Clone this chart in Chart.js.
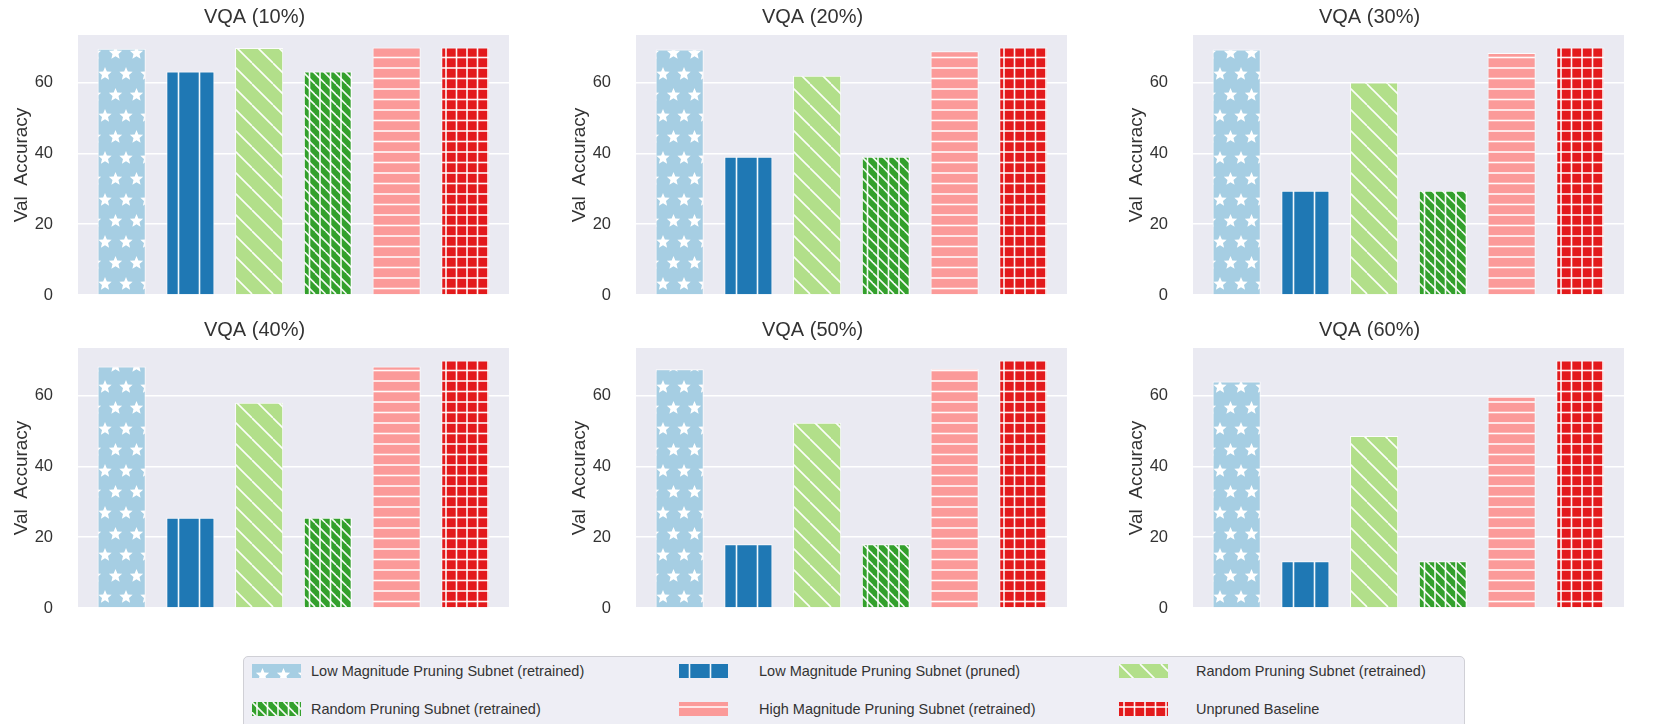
<!DOCTYPE html>
<html>
<head>
<meta charset="utf-8">
<script src="https://cdn.jsdelivr.net/npm/chart.js@4.4.1/dist/chart.umd.min.js"></script>
<style>
  body { margin: 0; background: #fff; width: 1669px; height: 724px; overflow: hidden; position: relative; font-family: "Liberation Sans", Arial, sans-serif; }
  .panel { position: absolute; }
  #legend { position: absolute; left: 243px; top: 656px; width: 1222px; height: 80px; background: #eeeef5; border: 1px solid #d0d0d6; border-radius: 5px; box-sizing: border-box; }
  .item { position: absolute; font-size: 14.5px; color: #333; white-space: nowrap; line-height: 16px; }
  .item canvas { position: absolute; top: 1px; }
</style>
</head>
<body>
<div id="legend"></div>
<script>
// panel titles
const titles = ['VQA (10%)', 'VQA (20%)', 'VQA (30%)', 'VQA (40%)', 'VQA (50%)', 'VQA (60%)'];

// val accuracy per panel (10% .. 60%)
const lowMagRetrained = [69.6, 69.4, 69.4, 68.3, 67.5, 64.0];
const lowMagPruned    = [63.2, 39.1, 29.5, 25.5, 18.0, 13.2];
const randRetrained   = [69.8, 62.0, 60.1, 58.0, 52.4, 48.6];
const randPruned      = [63.2, 39.1, 29.5, 25.5, 18.0, 13.2];
const highMagRetrained = [70.0, 68.9, 68.4, 68.3, 67.6, 59.7];
const unpruned        = [70.0, 70.0, 70.0, 70.0, 70.0, 70.0];

const seriesNames = [
    'Low Magnitude Pruning Subnet (retrained)',
    'Low Magnitude Pruning Subnet (pruned)',
    'Random Pruning Subnet (retrained)',
    'Random Pruning Subnet (retrained)',
    'High Magnitude Pruning Subnet (retrained)',
    'Unpruned Baseline'
];
const seriesValues = [lowMagRetrained, lowMagPruned, randRetrained, randPruned, highMagRetrained, unpruned];
const seriesColors = ['#a6cee3', '#1f78b4', '#b2df8a', '#33a02c', '#fb9a99', '#e31a1c'];
const seriesHatch = ['stars', 'vline', 'diag', 'vdiag', 'hline', 'grid'];

const FONT = '"Liberation Sans", Arial, sans-serif';
const TEXT = '#333';

// hatch patterns, like matplotlib hatches
function drawStar(c, cx, cy, r) {
    c.beginPath();
    for (let i = 0; i < 10; i++) {
        const rr = i % 2 === 0 ? r : r * 0.45;
        const a = -Math.PI / 2 + i * Math.PI / 5;
        const x = cx + rr * Math.cos(a), y = cy + rr * Math.sin(a);
        if (i === 0) c.moveTo(x, y); else c.lineTo(x, y);
    }
    c.closePath();
    c.fill();
}

function makePattern(kind, color) {
    const t = document.createElement('canvas');
    const w = 21, h = kind === 'stars' ? 42 : 21;
    t.width = w; t.height = h;
    const c = t.getContext('2d');
    c.fillStyle = color;
    c.fillRect(0, 0, w, h);
    c.strokeStyle = 'rgba(255,255,255,0.95)';
    c.fillStyle = '#fff';
    c.lineWidth = 1.6;
    const line = (x1, y1, x2, y2) => { c.beginPath(); c.moveTo(x1, y1); c.lineTo(x2, y2); c.stroke(); };
    if (kind === 'stars') {
        drawStar(c, 10.5, 11, 7);
        drawStar(c, 0, 32, 7);
        drawStar(c, 21, 32, 7);
        drawStar(c, 10.5, 53, 7);
        drawStar(c, 0, -10, 7);
        drawStar(c, 21, -10, 7);
    } else if (kind === 'vline') {
        line(10.5, 0, 10.5, h);
    } else if (kind === 'diag') {
        for (let k = -21; k <= 21; k += 21) line(k, 0, k + 21, 21);
    } else if (kind === 'vdiag') {
        line(5, 0, 5, h); line(15.5, 0, 15.5, h);
        for (let k = -21; k <= 21; k += 10.5) line(k, 0, k + 21, 21);
    } else if (kind === 'hline') {
        line(0, 5, w, 5); line(0, 15.5, w, 15.5);
    } else if (kind === 'grid') {
        line(0, 5, w, 5); line(0, 15.5, w, 15.5);
        line(5, 0, 5, h); line(15.5, 0, 15.5, h);
    }
    return c.createPattern(t, 'repeat');
}

const patterns = seriesColors.map((col, i) => makePattern(seriesHatch[i], col));

const bgPlugin = {
    id: 'bg',
    beforeDraw(chart) {
        const a = chart.chartArea, c = chart.ctx;
        c.save();
        c.fillStyle = '#eaeaf2';
        c.fillRect(a.left, a.top, a.right - a.left, a.bottom - a.top);
        c.restore();
    }
};

// layout of the 2x3 grid (plot areas)
const plotLefts = [78, 636, 1193];
const plotTops = [35, 348];
const plotW = 431, plotH = 260;
const axisW = 78, titleH = 35, padBottom = 13;
const padRight = axisW; // symmetric canvas so the title centres over the plot

titles.forEach((title, p) => {
    const col = p % 3, row = Math.floor(p / 3);
    const div = document.createElement('div');
    div.className = 'panel';
    div.style.left = (plotLefts[col] - axisW) + 'px';
    div.style.top = (plotTops[row] - titleH) + 'px';
    const cv = document.createElement('canvas');
    cv.width = axisW + plotW + padRight;
    cv.height = titleH + plotH + padBottom;
    div.appendChild(cv);
    document.body.appendChild(div);

    new Chart(cv.getContext('2d'), {
        type: 'bar',
        data: {
            datasets: seriesNames.map((name, k) => ({
                label: name,
                data: [{ x: k, y: seriesValues[k][p] }],
                backgroundColor: patterns[k],
                borderColor: 'rgba(255,255,255,0.85)',
                borderWidth: 1,
                grouped: false,
                barPercentage: 0.7,
                categoryPercentage: 1
            }))
        },
        options: {
            responsive: false,
            animation: false,
            layout: { padding: { left: 0, right: padRight, top: 0, bottom: padBottom } },
            plugins: {
                legend: { display: false },
                tooltip: { enabled: false },
                title: {
                    display: true,
                    text: title,
                    color: TEXT,
                    font: { family: FONT, size: 20, weight: 'normal' },
                    padding: { top: 5, bottom: 6 }
                }
            },
            scales: {
                x: { type: 'linear', min: -0.635, max: 5.635, offset: false, display: false },
                y: {
                    min: 0,
                    max: 73.5,
                    afterBuildTicks: s => { s.ticks = s.ticks.filter(t => t.value % 20 === 0); },
                    afterFit: s => { s.width = axisW; },
                    ticks: { stepSize: 20, padding: 3, color: TEXT, font: { family: FONT, size: 16.5 } },
                    grid: { color: '#ffffff', lineWidth: 1.6, drawTicks: true, tickLength: 22, tickColor: 'rgba(0,0,0,0)' },
                    border: { display: false },
                    title: {
                        display: true,
                        text: 'Val  Accuracy',
                        color: TEXT,
                        font: { family: FONT, size: 19 },
                        padding: { top: 10, bottom: 0 }
                    }
                }
            }
        },
        plugins: [bgPlugin]
    });
});

// shared legend below the panels
const legend = document.getElementById('legend');
const swatchLefts = [8, 435, 875];
const textLefts = [67, 515, 952];
const rowTops = [6, 44];
seriesNames.forEach((name, k) => {
    const col = k % 3, row = Math.floor(k / 3);
    const item = document.createElement('div');
    item.className = 'item';
    item.style.left = swatchLefts[col] + 'px';
    item.style.top = rowTops[row] + 'px';
    const sw = document.createElement('canvas');
    sw.width = 49; sw.height = 14;
    const sc = sw.getContext('2d');
    sc.fillStyle = patterns[k];
    sc.fillRect(0, 0, 49, 14);
    sw.style.left = '0px';
    item.appendChild(sw);
    const span = document.createElement('span');
    span.textContent = name;
    span.style.position = 'absolute';
    span.style.left = (textLefts[col] - swatchLefts[col]) + 'px';
    item.appendChild(span);
    legend.appendChild(item);
});
</script>
</body>
</html>
